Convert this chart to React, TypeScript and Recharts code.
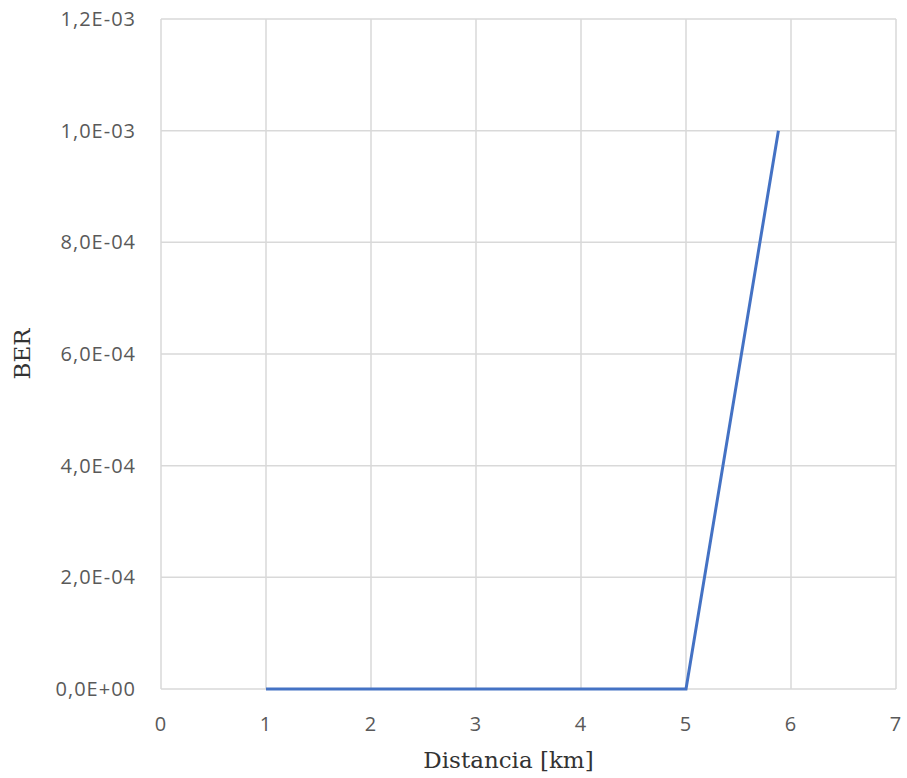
import React from "react";
import { LineChart, Line, XAxis, YAxis, CartesianGrid, Label } from "recharts";

const distances = [1, 2, 3, 4, 5, 5.88];
const berValues = [0, 0, 0, 0, 0, 1.0e-3];
const xTicks = [0, 1, 2, 3, 4, 5, 6, 7];
const yTicks = [0, 2e-4, 4e-4, 6e-4, 8e-4, 1.0e-3, 1.2e-3];

const data = distances.map((d, i) => ({ d, ber: berValues[i] }));

const fmtSci = (v: number) => {
  const s = v.toExponential(1); // e.g. "1.2e-3"
  const [m, e] = s.split("e");
  const exp = parseInt(e, 10);
  const sign = exp < 0 ? "-" : "+";
  const ea = Math.abs(exp).toString().padStart(2, "0");
  return `${m.replace(".", ",")}E${sign}${ea}`;
};

const tickStyle = {
  fill: "#595959",
  fontSize: 20,
  letterSpacing: 1,
  fontFamily: "'Open Sans', 'Noto Sans', sans-serif",
};

const titleStyle = {
  fill: "#333",
  fontSize: 23,
  fontFamily: "'DejaVu Serif', 'Liberation Serif', serif",
};

export default function App() {
  return (
    <div style={{ position: "absolute", left: 0, top: 0, width: 907, height: 778, background: "#fff" }}>
      <LineChart width={907} height={778} data={data} margin={{ top: 19, right: 11, left: 0, bottom: 0 }}>
        <CartesianGrid stroke="#d9d9d9" strokeWidth={1.5} />
        <XAxis
          type="number"
          dataKey="d"
          domain={[0, 7]}
          ticks={xTicks}
          axisLine={false}
          tickLine={false}
          tickSize={0}
          tickMargin={28}
          height={89}
          tick={tickStyle}
          interval={0}
        >
          <Label value="Distancia [km]" position="insideBottom" offset={10} dx={-20} style={titleStyle} />
        </XAxis>
        <YAxis
          type="number"
          domain={[0, 1.2e-3]}
          ticks={yTicks}
          tickFormatter={fmtSci}
          axisLine={false}
          tickLine={false}
          tickSize={0}
          tickMargin={25}
          width={161}
          tick={tickStyle}
          interval={0}
        >
          <Label
            value="BER"
            angle={-90}
            position="insideLeft"
            offset={22}
            style={{ ...titleStyle, textAnchor: "middle" }}
          />
        </YAxis>
        <Line
          type="linear"
          dataKey="ber"
          stroke="#4472C4"
          strokeWidth={3}
          dot={false}
          isAnimationActive={false}
        />
      </LineChart>
    </div>
  );
}
